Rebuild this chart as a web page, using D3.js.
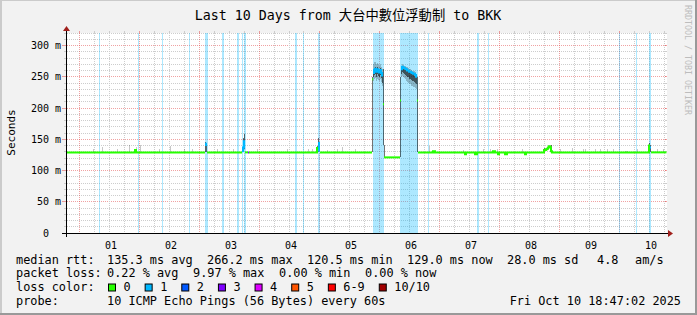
<!DOCTYPE html>
<html>
<head>
<meta charset="utf-8">
<script src="https://cdn.jsdelivr.net/npm/d3@7"></script>
<style>
  body { margin: 0; background: #f2f2f2; }
  svg text { font-family: "DejaVu Sans Mono", "Noto Sans CJK TC", monospace; white-space: pre; }
</style>
</head>
<body>
<svg id="vis" width="697" height="315"></svg>
<script>
// ---- data ----
const dayLabels = ["01","02","03","04","05","06","07","08","09","10"];
const yTickValues = [0, 50, 100, 150, 200, 250, 300];

// periods with packet loss (light blue bars)
const lossBands = [
  ["10-01 08:00","10-01 08:24"], ["10-01 23:36","10-02 00:00"],
  ["10-02 09:12","10-02 09:36"], ["10-02 20:00","10-02 20:24"],
  ["10-03 02:24","10-03 03:36"], ["10-03 09:12","10-03 10:00"],
  ["10-03 15:12","10-03 16:00"], ["10-03 17:12","10-03 17:36"],
  ["10-03 18:00","10-03 18:48"], ["10-04 14:24","10-04 15:12"],
  ["10-04 17:36","10-04 18:00"], ["10-04 23:36","10-05 00:24"],
  ["10-05 21:36","10-06 02:00"], ["10-06 08:24","10-06 15:36"],
  ["10-06 19:36","10-06 20:00"], ["10-07 15:12","10-07 16:00"],
  ["10-07 19:36","10-07 20:00"], ["10-10 00:00","10-10 00:24"],
  ["10-10 06:48","10-10 07:12"], ["10-10 12:00","10-10 12:48"]
];

// median rtt (ms) and lost pings, each valid until the next entry
const medianRtt = [
  ["09-30 19:00",129,0], ["10-01 22:24",133,0], ["10-01 22:48",129,0],
  ["10-03 02:24",143,1], ["10-03 02:48",141,1], ["10-03 03:12",129,0],
  ["10-03 17:12",131,1], ["10-03 17:36",137,1], ["10-03 18:00",147,1],
  ["10-03 18:24",129,0], ["10-03 19:36",129,3], ["10-03 20:00",129,0],
  ["10-04 23:12",136,0], ["10-04 23:36",144,1], ["10-05 00:00",132,1],
  ["10-05 00:24",129,0],
  ["10-05 21:12",246,0], ["10-05 21:36",256,1], ["10-05 22:00",261,1],
  ["10-05 22:24",263,1], ["10-05 22:48",258,1], ["10-05 23:12",262,1],
  ["10-05 23:36",260,1], ["10-06 00:00",257,1], ["10-06 00:24",261,1],
  ["10-06 00:48",256,1], ["10-06 01:12",252,1], ["10-06 01:36",206,0],
  ["10-06 02:00",121,0],
  ["10-06 08:24",212,0], ["10-06 08:48",262,1], ["10-06 09:12",266,1],
  ["10-06 09:36",265,1], ["10-06 10:00",264,1], ["10-06 10:24",263,1],
  ["10-06 10:48",262,1], ["10-06 11:12",260,1], ["10-06 11:36",260,1],
  ["10-06 12:00",258,1], ["10-06 12:24",258,1], ["10-06 12:48",257,1],
  ["10-06 13:12",256,1], ["10-06 13:36",255,1], ["10-06 14:00",255,1],
  ["10-06 14:24",253,1], ["10-06 14:48",250,1], ["10-06 15:12",212,0],
  ["10-06 15:36",129,0],
  ["10-06 21:36",131,0], ["10-06 22:24",129,0],
  ["10-07 10:24",126,0], ["10-07 10:48",129,0],
  ["10-07 14:24",126,0], ["10-07 15:12",129,0],
  ["10-07 21:36",131,0], ["10-07 22:24",129,0],
  ["10-07 23:36",126,0], ["10-08 00:00",129,0],
  ["10-08 02:24",126,0], ["10-08 03:12",129,0],
  ["10-08 10:24",126,0], ["10-08 10:48",129,0],
  ["10-08 18:00",133,0], ["10-08 18:48",134,0], ["10-08 19:12",135,0],
  ["10-08 19:36",137,0], ["10-08 20:00",139,0], ["10-08 20:24",137,0],
  ["10-08 20:48",131,0], ["10-08 21:12",129,0],
  ["10-10 12:00",140,0], ["10-10 12:24",137,1], ["10-10 12:48",129,0],
  ["10-10 19:00",129,0]
];

// light smoke: spread of the outer pings [time, low ms, high ms]
const lightSmoke = [
  ["10-01 05:36",129,135], ["10-01 09:12",129,138], ["10-01 15:12",129,135],
  ["10-01 20:00",129,141], ["10-01 22:48",129,138], ["10-02 00:24",129,141],
  ["10-02 08:00",129,135], ["10-02 12:24",129,139], ["10-02 18:00",129,135],
  ["10-02 21:12",129,134], ["10-03 07:12",129,135], ["10-03 13:36",129,135],
  ["10-03 23:12",129,135], ["10-04 11:12",129,135], ["10-04 19:36",129,135],
  ["10-04 21:12",129,134], ["10-05 03:12",129,133], ["10-05 07:12",129,134],
  ["10-05 09:12",129,138], ["10-05 14:24",129,135],
  ["10-05 21:36",244,270], ["10-05 22:00",246,273], ["10-05 22:24",248,274],
  ["10-05 22:48",244,270], ["10-05 23:12",247,272], ["10-05 23:36",245,271],
  ["10-06 00:00",243,268], ["10-06 00:24",246,271], ["10-06 00:48",242,266],
  ["10-06 01:12",236,262],
  ["10-06 08:48",250,268], ["10-06 09:12",252,270], ["10-06 09:36",250,269],
  ["10-06 10:00",248,268], ["10-06 10:24",246,267], ["10-06 10:48",244,266],
  ["10-06 11:12",242,265], ["10-06 11:36",240,264], ["10-06 12:00",238,262],
  ["10-06 12:24",238,262], ["10-06 12:48",236,261], ["10-06 13:12",235,260],
  ["10-06 13:36",234,259], ["10-06 14:00",233,259], ["10-06 14:24",232,257],
  ["10-06 14:48",230,255],
  ["10-06 20:00",129,140], ["10-07 09:36",129,133], ["10-07 17:36",129,134],
  ["10-07 20:24",129,134], ["10-07 23:12",129,134], ["10-08 09:12",129,134],
  ["10-09 00:24",129,134], ["10-09 05:12",129,136], ["10-09 09:36",129,134],
  ["10-09 10:24",129,134], ["10-09 14:24",129,134], ["10-09 16:24",129,134],
  ["10-09 19:12",129,134], ["10-09 21:36",129,134], ["10-10 02:24",129,132],
  ["10-10 02:48",129,132], ["10-10 03:12",129,132], ["10-10 07:12",129,134],
  ["10-10 15:12",129,134], ["10-10 17:36",129,134]
];

// dark smoke: spread of the inner pings [time, low ms, high ms]
const darkSmoke = [
  ["10-03 02:24",129,145], ["10-03 02:48",129,144],
  ["10-03 17:36",129,152], ["10-03 18:00",135,158],
  ["10-04 23:12",129,140], ["10-04 23:36",129,152],
  ["10-05 21:12",129,250],
  ["10-05 21:36",250,260], ["10-05 22:00",253,264], ["10-05 22:24",255,266],
  ["10-05 22:48",250,261], ["10-05 23:12",254,265], ["10-05 23:36",252,263],
  ["10-06 00:00",249,260], ["10-06 00:24",253,264], ["10-06 00:48",248,259],
  ["10-06 01:12",240,255], ["10-06 01:36",141,262], ["10-06 02:00",121,141],
  ["10-06 08:24",121,250],
  ["10-06 08:48",255,264], ["10-06 09:12",258,267], ["10-06 09:36",256,266],
  ["10-06 10:00",255,265], ["10-06 10:24",253,264], ["10-06 10:48",252,263],
  ["10-06 11:12",250,262], ["10-06 11:36",249,261], ["10-06 12:00",247,259],
  ["10-06 12:24",246,259], ["10-06 12:48",245,258], ["10-06 13:12",244,257],
  ["10-06 13:36",243,256], ["10-06 14:00",242,256], ["10-06 14:24",240,254],
  ["10-06 14:48",238,252], ["10-06 15:12",129,250],
  ["10-08 18:00",129,136], ["10-08 20:48",129,141],
  ["10-10 12:00",129,144], ["10-10 12:24",129,141]
];

const lossLabels = ["0","1","2","3","4","5","6-9","10/10"];
const lossColors = ["#26ff00","#00b8ff","#0059ff","#7e00ff","#dd00ff","#ff5500","#ff0000","#a10000"];

const rttStats = [135.3, 266.2, 120.5, 129.0];   // avg max min now (ms)
const rttSd = 28.0, rttAmps = 4.8;
const lossStats = [0.22, 9.97, 0.00, 0.00];      // avg max min now (%)
const statNames = ["avg","max","min","now"];
const probeText = "10 ICMP Echo Pings (56 Bytes) every 60s";
const stampText = "Fri Oct 10 18:47:02 2025";
const titleText = "Last 10 Days from 大台中數位浮動制 to BKK";

// ---- layout ----
const W = 697, H = 315;
const L = 67, R = 667, T = 33, B = 233;
const parse = d3.timeParse("%Y-%m-%d %H:%M");
const tp = s => parse("2025-" + s);
const step = 24 * 60 * 1000; // one pixel column

const x = d3.scaleTime().domain([tp("09-30 19:00"), tp("10-10 19:00")]).range([L - 0.5, R - 0.5]);
const y = d3.scaleLinear().domain([0, 320]).range([B, T]);
const crisp = v => Math.floor(v) + 0.5;

const svg = d3.select("#vis");

// frame
svg.append("rect").attr("width", W).attr("height", H).attr("fill", "#f2f2f2");
svg.append("rect").attr("x", 0).attr("y", 0).attr("width", W).attr("height", 1).attr("fill", "#cbcbcb");
svg.append("rect").attr("x", 0).attr("y", 0).attr("width", 2).attr("height", H).attr("fill", "#cbcbcb");
svg.append("rect").attr("x", 0).attr("y", H - 2).attr("width", W).attr("height", 2).attr("fill", "#999");
svg.append("rect").attr("x", W - 2).attr("y", 0).attr("width", 2).attr("height", H).attr("fill", "#999");

// canvas
svg.append("rect").attr("x", L).attr("y", T).attr("width", R - L).attr("height", B - T).attr("fill", "#fff");

// grid
const grid = svg.append("g").attr("shape-rendering", "crispEdges");
const minorColor = "#cdcdcd", majorColor = "rgba(225,70,70,0.5)";
d3.range(10, 321, 10).forEach(v => {
  const major = v % 50 === 0;
  const yy = crisp(y(v));
  grid.append("line").attr("x1", L).attr("x2", R).attr("y1", yy).attr("y2", yy)
    .attr("stroke", major ? majorColor : minorColor).attr("stroke-dasharray", "1,1");
  grid.append("line").attr("x1", major ? 62 : 64).attr("x2", L).attr("y1", yy).attr("y2", yy)
    .attr("stroke", major ? majorColor : minorColor);
  grid.append("line").attr("x1", R - 2).attr("x2", R).attr("y1", yy).attr("y2", yy)
    .attr("stroke", major ? majorColor : minorColor);
});
x.ticks(d3.timeHour.every(6)).forEach(d => {
  const major = d.getHours() === 0;
  const xx = crisp(x(d));
  grid.append("line").attr("x1", xx).attr("x2", xx).attr("y1", T).attr("y2", B)
    .attr("stroke", major ? majorColor : minorColor).attr("stroke-dasharray", "1,1");
  grid.append("line").attr("x1", xx).attr("x2", xx).attr("y1", T - 2).attr("y2", T)
    .attr("stroke", major ? majorColor : minorColor);
});

// loss bars
svg.append("g").attr("shape-rendering", "crispEdges")
  .selectAll("rect").data(lossBands).join("rect")
  .attr("x", d => x(tp(d[0]))).attr("width", d => x(tp(d[1])) - x(tp(d[0])))
  .attr("y", T).attr("height", B - T)
  .attr("fill", "rgba(0,184,255,0.32)");

// smoke
const smoke = svg.append("g").attr("shape-rendering", "crispEdges");
smoke.selectAll(".light").data(lightSmoke).join("rect").attr("class", "light")
  .attr("x", d => x(tp(d[0]))).attr("width", d => x(+tp(d[0]) + step) - x(tp(d[0])))
  .attr("y", d => y(d[2])).attr("height", d => y(d[1]) - y(d[2]))
  .attr("fill", "rgba(0,0,0,0.22)");
smoke.selectAll(".dark").data(darkSmoke).join("rect").attr("class", "dark")
  .attr("x", d => x(tp(d[0]))).attr("width", d => x(+tp(d[0]) + step) - x(tp(d[0])))
  .attr("y", d => y(d[2])).attr("height", d => y(d[1]) - y(d[2]))
  .attr("fill", "rgba(0,0,0,0.55)");

// median line, coloured by loss; big jumps are left to the smoke
const runs = [];
for (let i = 0; i < medianRtt.length - 1; i++) {
  const [t0, v, loss] = medianRtt[i];
  const t1 = medianRtt[i + 1][0];
  const last = runs[runs.length - 1];
  if (last && last.loss === loss && Math.abs(last.end[1] - v) <= 20) {
    last.pts.push([tp(t0), v]);
    last.end = [tp(t1), v];
  } else {
    runs.push({ loss, pts: [[tp(t0), v]], end: [tp(t1), v] });
  }
}
const line = d3.line().x(d => x(d[0])).y(d => y(d[1])).curve(d3.curveStepAfter);
svg.append("g").selectAll("path").data(runs).join("path")
  .attr("d", r => line(r.pts.concat([r.end])))
  .attr("fill", "none").attr("stroke", r => lossColors[r.loss]).attr("stroke-width", 2);

// axes
const axisColor = "#000";
svg.append("line").attr("x1", 62).attr("x2", R + 1).attr("y1", B + 0.5).attr("y2", B + 0.5).attr("stroke", axisColor);
svg.append("line").attr("x1", L - 0.5).attr("x2", L - 0.5).attr("y1", B + 4).attr("y2", T - 3).attr("stroke", axisColor);
svg.append("path").attr("d", `M${R + 1},${B - 3} L${R + 6},${B + 0.5} L${R + 1},${B + 4} Z`).attr("fill", "#a0201c");
svg.append("path").attr("d", `M${L - 4},${T - 2} L${L - 0.5},${T - 7} L${L + 3},${T - 2} Z`).attr("fill", "#a0201c");

const yAxis = svg.append("g").attr("transform", `translate(61,0)`)
  .call(d3.axisLeft(y).tickValues(yTickValues).tickSize(0).tickPadding(0)
    .tickFormat(v => v === 0 ? "0  " : v + " m"));
yAxis.select(".domain").remove();
yAxis.selectAll(".tick").attr("transform", d => `translate(0,${crisp(y(d))})`);
yAxis.selectAll("text").attr("font-size", 10).attr("fill", "#000")
  .attr("font-family", "DejaVu Sans Mono").attr("dy", "0.35em");

const noon = dayLabels.map(d => tp(`10-${d} 12:00`));
const xAxis = svg.append("g").attr("transform", `translate(1.5,${B + 9})`)
  .call(d3.axisBottom(x).tickValues(noon).tickSize(0).tickPadding(0)
    .tickFormat((d, i) => dayLabels[i]));
xAxis.select(".domain").remove();
xAxis.selectAll("text").attr("font-size", 10).attr("fill", "#000")
  .attr("font-family", "DejaVu Sans Mono").attr("dy", "0.71em");

// titles
svg.append("text").attr("x", 348).attr("y", 19.5).attr("text-anchor", "middle")
  .attr("font-size", 13.3).attr("fill", "#000").text(titleText);
svg.append("text").attr("transform", "translate(15,132.5) rotate(-90)").attr("text-anchor", "middle")
  .attr("font-size", 11).attr("fill", "#000").text("Seconds");
svg.append("text").attr("transform", "translate(685,5) rotate(90)")
  .attr("font-size", 8.3).attr("fill", "#bdbdbd").text("RRDTOOL / TOBI OETIKER");

// legend
const lg = svg.append("g").attr("font-size", 11.86).attr("fill", "#000");
const put = (xx, yy, s, anchor) => lg.append("text").attr("x", xx).attr("y", yy)
  .attr("text-anchor", anchor || "start").text(s);
const rows = [263.5, 277, 290.5, 304.5];

put(16, rows[0], "median rtt:");
[107, 207, 307, 407].forEach((xx, i) => put(xx, rows[0], `${rttStats[i].toFixed(1)} ms ${statNames[i]}`));
put(507, rows[0], `${rttSd.toFixed(1)} ms sd`);
put(597, rows[0], rttAmps.toFixed(1));
put(635, rows[0], "am/s");

put(16, rows[1], "packet loss:");
[107, 193, 279, 365].forEach((xx, i) => put(xx, rows[1], `${lossStats[i].toFixed(2)} % ${statNames[i]}`));

put(16, rows[2], "loss color:");
let lx = 108.5;
lossLabels.forEach((lab, i) => {
  lg.append("rect").attr("x", lx).attr("y", 284).attr("width", 7).attr("height", 7)
    .attr("fill", lossColors[i]).attr("stroke", "#000").attr("stroke-width", 1);
  const tx = put(lx + 15, rows[2], lab);
  lx = lx + 15 + tx.node().getComputedTextLength() + 14.5;
});

put(16, rows[3], "probe:");
put(107, rows[3], probeText);
put(681, rows[3], stampText, "end");
</script>
</body>
</html>
